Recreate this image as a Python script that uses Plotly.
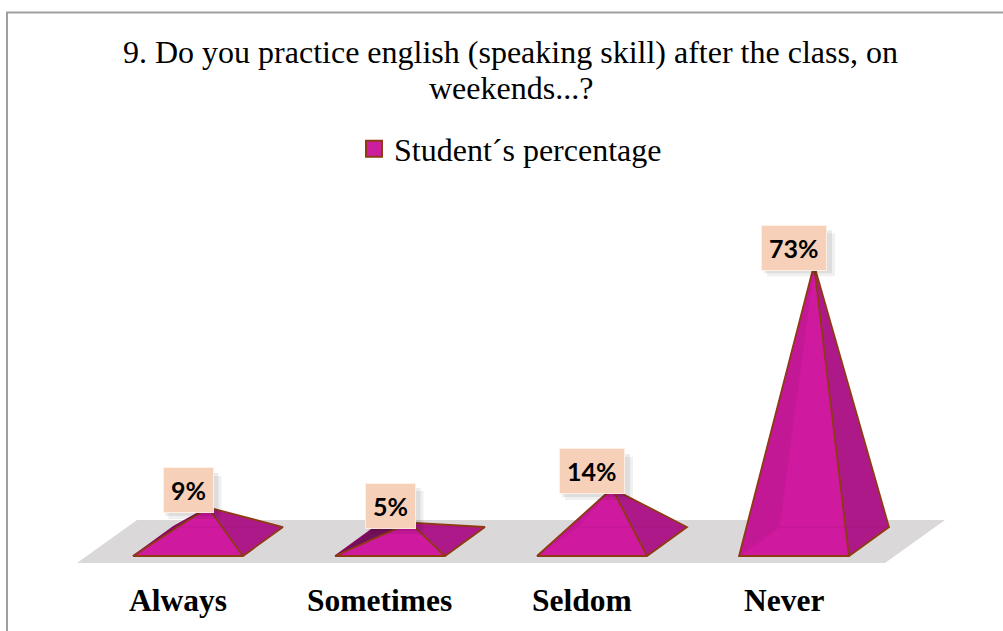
import plotly.graph_objects as go

# ---------------- data ----------------
categories = ["Always", "Sometimes", "Seldom", "Never"]
values = [9, 5, 14, 73]
value_labels = ["9%", "5%", "14%", "73%"]
series_name = "Student´s percentage"
title_lines = ["9. Do you practice english (speaking skill) after the class, on", "weekends...?"]

# ---------------- style / geometry constants ----------------
W, H = 1003, 631
X_RANGE = [-1.0297, 3.9356]
Y_RANGE = [-23.61, 142.88]
HALF_W = 0.272          # half width of pyramid base (category units)
DX, DY = 0.198, 7.65    # 3D depth offset of base
FDX, FDY = 0.297, 11.35 # depth of the floor
FRONT = "rgba(208,26,160,0.86)"
RIGHT = "rgba(172,26,136,0.90)"
LEFT = "rgb(115,16,90)"
BACK = "rgb(196,24,150)"
EDGE = "#8E3A12"
FLOOR = "#DAD8D9"
LABEL_BG = "#F6D0B8"
SERIF = "Liberation Serif"

fig = go.Figure()

# floor
n = len(categories)
fx = [-0.5 - FDX / 2, n - 0.5 - FDX / 2, n - 0.5 + FDX / 2, -0.5 + FDX / 2, -0.5 - FDX / 2]
fy = [-FDY / 2, -FDY / 2, FDY / 2, FDY / 2, -FDY / 2]
fig.add_trace(go.Scatter(x=fx, y=fy, fill="toself", fillcolor=FLOOR, mode="lines",
                         line=dict(width=0, color=FLOOR), hoverinfo="skip", showlegend=False))


def poly(pts, fill, line_color=None, width=0):
    xs = [p[0] for p in pts] + [pts[0][0]]
    ys = [p[1] for p in pts] + [pts[0][1]]
    return go.Scatter(x=xs, y=ys, fill="toself", fillcolor=fill, mode="lines",
                      line=dict(width=width, color=line_color or fill),
                      hoverinfo="skip", showlegend=False)


for i, (cat, v) in enumerate(zip(categories, values)):
    c = i
    FL = (c - HALF_W - DX / 2, -DY / 2)
    FR = (c + HALF_W - DX / 2, -DY / 2)
    BR = (c + HALF_W + DX / 2, DY / 2)
    BL = (c - HALF_W + DX / 2, DY / 2)
    AP = (c, v)
    # hidden faces
    fig.add_trace(poly([FL, FR, BR, BL], BACK))
    fig.add_trace(poly([BL, BR, AP], BACK))
    fig.add_trace(poly([FL, BL, AP], LEFT))
    # back edges (seen through transparency)
    fig.add_trace(go.Scatter(
        x=[FL[0], BL[0], BR[0], None, BL[0], AP[0]],
        y=[FL[1], BL[1], BR[1], None, BL[1], AP[1]],
        mode="lines", line=dict(width=1.5, color="rgb(140,8,100)"),
        hoverinfo="skip", showlegend=False))
    # visible faces
    fig.add_trace(poly([FL, FR, AP], FRONT))
    fig.add_trace(poly([FR, BR, AP], RIGHT))
    # front edges
    fig.add_trace(go.Scatter(
        x=[AP[0], FL[0], FR[0], BR[0], AP[0], FR[0]],
        y=[AP[1], FL[1], FR[1], BR[1], AP[1], FR[1]],
        mode="lines", line=dict(width=1.8, color=EDGE),
        hoverinfo="skip", showlegend=False))

    # data label with soft shadow (pixel-sized shapes anchored on the apex)
    lx = c - DX / 2
    bw = 23 + 15 * len(value_labels[i])
    for off, alpha in [(7, 0.06), (4, 0.08)]:
        fig.add_shape(type="rect", xref="x", yref="y", xsizemode="pixel", ysizemode="pixel",
                      xanchor=lx, yanchor=v,
                      x0=-bw / 2 + off, x1=bw / 2 + off, y0=17 - 21.5 - off, y1=17 + 21.5 - off,
                      fillcolor=f"rgba(0,0,0,{alpha})", line=dict(width=0), layer="above")
    fig.add_annotation(x=lx, y=v, xref="x", yref="y", text=value_labels[i],
                       showarrow=False, yshift=17,
                       font=dict(family="Lato", size=25, weight="bold", color="#000000"),
                       bgcolor=LABEL_BG, bordercolor="rgba(255,240,230,0.9)", borderwidth=1,
                       borderpad=7)

    # category label
    fig.add_annotation(x=c - DX / 2 - 0.05, y=-15.44, xref="x", yref="y", text=cat,
                       showarrow=False,
                       font=dict(family=SERIF, size=31.5, weight="bold", color="#000000"))

# legend entry
fig.add_trace(go.Scatter(x=[None], y=[None], mode="markers", name=series_name,
                         marker=dict(symbol="square", size=18, color="#CC1FA0",
                                     line=dict(color="#8E3A12", width=2))))

# title
fig.add_annotation(x=0.509, y=1 - 52 / H, xref="paper", yref="paper", yanchor="middle",
                   text=title_lines[0], showarrow=False,
                   font=dict(family=SERIF, size=32, color="#000000"))
fig.add_annotation(x=0.509, y=1 - 87.5 / H, xref="paper", yref="paper", yanchor="middle",
                   text=title_lines[1], showarrow=False,
                   font=dict(family=SERIF, size=32, color="#000000"))

# chart border
fig.add_shape(type="rect", xref="paper", yref="paper", x0=7 / W, x1=1.1,
              y0=-0.1, y1=1 - 12.5 / H, line=dict(color="#A0A0A0", width=2))

fig.update_layout(
    width=W, height=H,
    margin=dict(l=0, r=0, t=0, b=0, autoexpand=False),
    paper_bgcolor="white", plot_bgcolor="white",
    xaxis=dict(range=X_RANGE, visible=False, fixedrange=True),
    yaxis=dict(range=Y_RANGE, visible=False, fixedrange=True),
    showlegend=True,
    legend=dict(orientation="h", x=0.509, xanchor="center", y=1 - 149 / H, yanchor="middle",
                yref="container", font=dict(family=SERIF, size=32, color="#000000"),
                bgcolor="rgba(0,0,0,0)", itemwidth=30),
)

fig.write_html("out.html")
